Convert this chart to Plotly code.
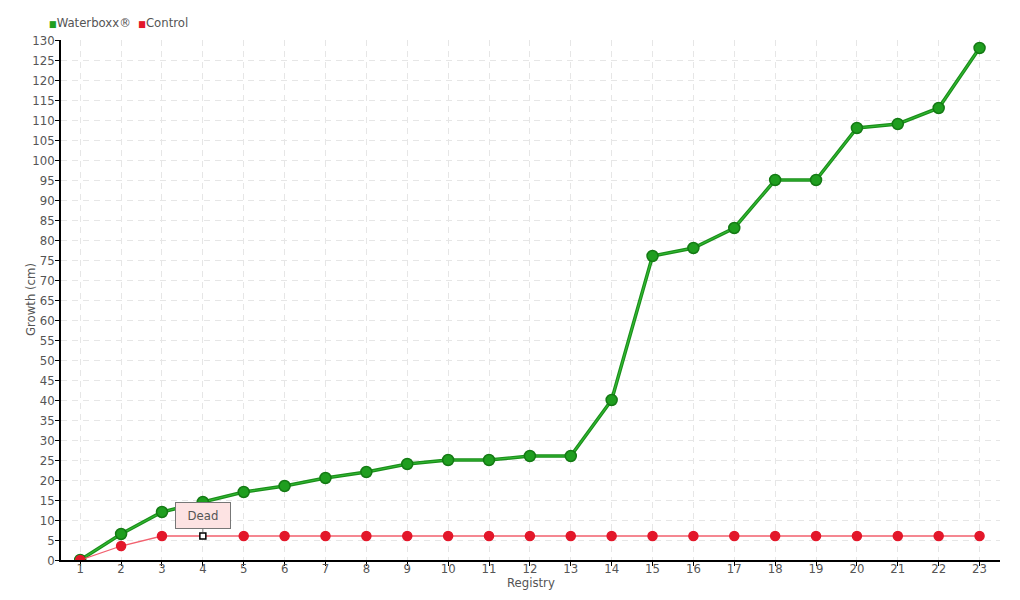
import plotly.graph_objects as go

registry = list(range(1, 24))
waterboxx = [0, 6.5, 12, 14.5, 17, 18.5, 20.5, 22, 24, 25, 25, 26, 26, 40, 76, 78, 83, 95, 95, 108, 109, 113, 128]
control = [0, 3.5, 6, 6, 6, 6, 6, 6, 6, 6, 6, 6, 6, 6, 6, 6, 6, 6, 6, 6, 6, 6, 6]
dead_index = 3  # registry 4
y_ticks = list(range(0, 131, 5))

FONT = "DejaVu Sans Condensed, Liberation Sans Narrow, Roboto Condensed, sans-serif"
GREEN = "#1f9e1f"
RED = "#e3172a"

fig = go.Figure()

fig.add_trace(go.Scatter(
    x=registry, y=waterboxx, mode="lines",
    line=dict(color="#1a8f1a", width=3.5), showlegend=False, hoverinfo="skip"))
fig.add_trace(go.Scatter(
    x=registry, y=waterboxx, mode="lines+markers",
    line=dict(color="#33b833", width=1.2),
    marker=dict(size=11, color=GREEN, line=dict(color="#147a14", width=1.5)),
    showlegend=False, name="Waterboxx®"))

ctrl_symbols = ["circle"] * len(control)
ctrl_colors = [RED] * len(control)
ctrl_sizes = [9] * len(control)
ctrl_line_colors = [RED] * len(control)
ctrl_symbols[dead_index] = "square"
ctrl_colors[dead_index] = "white"
ctrl_sizes[dead_index] = 6
ctrl_line_colors[dead_index] = "black"

fig.add_trace(go.Scatter(
    x=registry, y=control, mode="lines+markers",
    line=dict(color="#f2606e", width=1.3),
    marker=dict(size=ctrl_sizes, color=ctrl_colors, symbol=ctrl_symbols, opacity=1,
                line=dict(color=ctrl_line_colors, width=1.5)),
    showlegend=False, name="Control"))

fig.add_annotation(
    x=registry[dead_index], y=control[dead_index], text="Dead",
    showarrow=True, arrowhead=0, arrowwidth=1, arrowcolor="#777",
    ax=0, ay=-21, standoff=4, width=44,
    bgcolor="#fde3e3", bordercolor="#777", borderwidth=1, borderpad=5,
    font=dict(family=FONT, size=13, color="#555"))

# legend drawn as text
fig.add_annotation(
    xref="paper", yref="paper", x=0, y=1.0, xanchor="left", yanchor="bottom",
    xshift=-14, yshift=8, showarrow=False,
    text=(f"<span style='color:{GREEN};font-size:9px'>■</span>Waterboxx®  "
          f"<span style='color:{RED};font-size:9px'>■</span>Control"),
    font=dict(family=FONT, size=13, color="#555"))

# y axis title
fig.add_annotation(
    xref="paper", yref="paper", x=0, y=0.5, xanchor="center", yanchor="middle",
    xshift=-31, showarrow=False, textangle=-90, text="Growth (cm)",
    font=dict(family=FONT, size=13, color="#555"))

# x axis title
fig.add_annotation(
    xref="paper", yref="paper", x=0.5, y=0, xanchor="center", yanchor="middle",
    yshift=-22, showarrow=False, text="Registry",
    font=dict(family=FONT, size=13, color="#555"))

# page body has an 8px margin: shrink figure to keep plot area at reference position
fig.update_layout(
    width=1012, height=592,
    margin=dict(l=53, r=20, t=32, b=40, autoexpand=False),
    paper_bgcolor="white", plot_bgcolor="white",
    font=dict(family=FONT, size=13, color="#555"),
    showlegend=False,
)
fig.update_xaxes(
    range=[0.53, 23.5], tickmode="array", tickvals=registry,
    ticktext=[str(r) for r in registry],
    showgrid=True, gridcolor="#e6e6e6", griddash="6px,5px", gridwidth=1,
    showline=True, linecolor="black", linewidth=1.5,
    ticks="outside", ticklen=4, tickcolor="black", ticklabelstandoff=-8,
    zeroline=False, automargin=False,
)
fig.update_yaxes(
    range=[0, 130], tickmode="array", tickvals=y_ticks,
    showgrid=True, gridcolor="#e6e6e6", griddash="6px,5px", gridwidth=1,
    showline=True, linecolor="black", linewidth=1.5,
    ticks="outside", ticklen=4, tickcolor="black", ticklabelstandoff=-2,
    zeroline=False, automargin=False,
)

fig.write_html("out.html")
